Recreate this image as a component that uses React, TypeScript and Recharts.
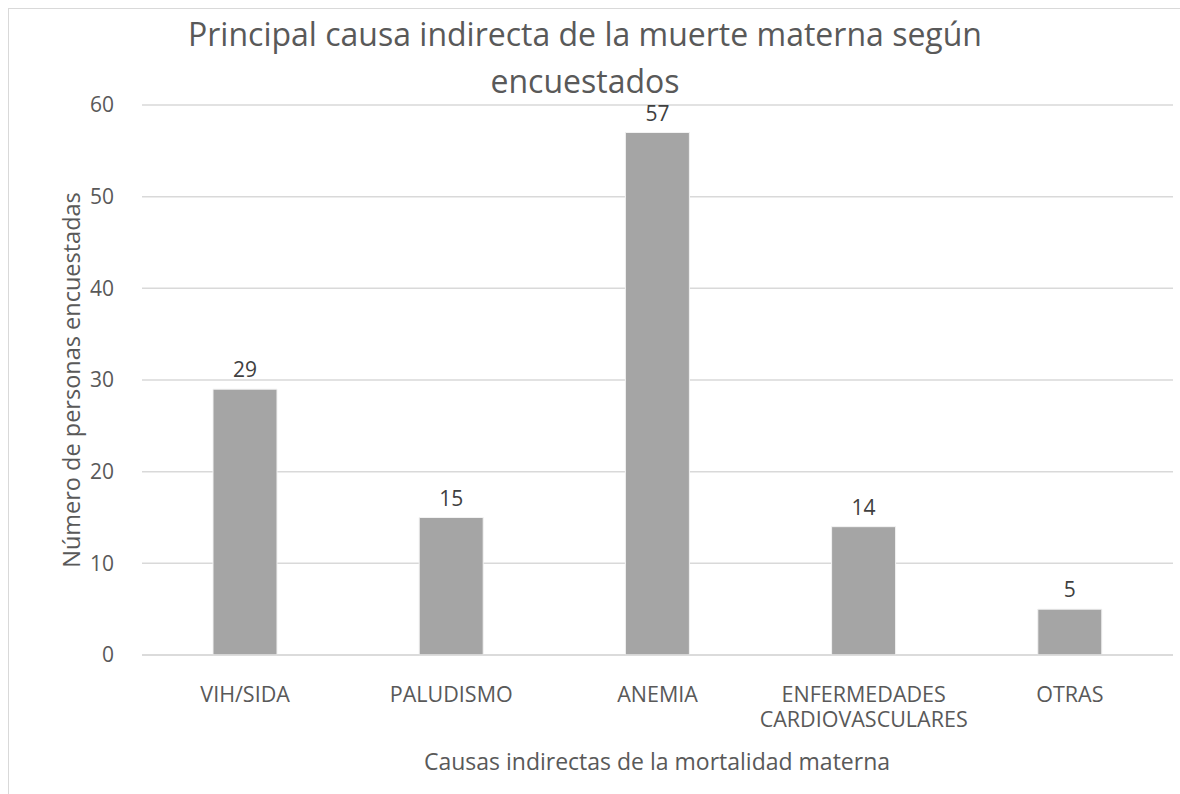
import { BarChart, Bar, XAxis, YAxis, CartesianGrid, LabelList } from 'recharts';

const categories = ['VIH/SIDA', 'PALUDISMO', 'ANEMIA', 'ENFERMEDADES CARDIOVASCULARES', 'OTRAS'];
const counts = [29, 15, 57, 14, 5];
const yTicks = [0, 10, 20, 30, 40, 50, 60];

const titleLines = ['Principal causa indirecta de la muerte materna según', 'encuestados'];
const xTitle = 'Causas indirectas de la mortalidad materna';
const yTitle = 'Número de personas encuestadas';

const data = categories.map((name, i) => ({ name, value: counts[i] }));

const FONT = '"Open Sans", sans-serif';
const TEXT = '#595959';

// splits long labels into two lines like Excel does
function CategoryTick(props: any) {
  const { x, y, payload } = props;
  const words = String(payload.value).split(' ');
  return (
    <text x={x} y={y} textAnchor="middle" fill={TEXT} fontSize={21.5} fontFamily={FONT}>
      {words.map((w: string, i: number) => (
        <tspan key={i} x={x} dy={i === 0 ? 39 : 25}>
          {w}
        </tspan>
      ))}
    </text>
  );
}

export default function App() {
  return (
    <div style={{ position: 'absolute', left: 0, top: 0, width: 1180, height: 794, overflow: 'hidden', background: '#fff' }}>
      <div
        style={{
          position: 'absolute',
          left: 8,
          top: 8,
          width: 1172,
          height: 786,
          boxSizing: 'border-box',
          borderLeft: '1.5px solid #D9D9D9',
          borderTop: '1.5px solid #D9D9D9',
        }}
      />
      <BarChart
        width={1180}
        height={794}
        data={data}
        margin={{ top: 105, right: 7, left: 0, bottom: 109 }}
        style={{ position: 'absolute', left: 0, top: 0 }}
      >
        <text x={585} y={46} textAnchor="middle" fill={TEXT} fontSize={32} fontFamily={FONT}>
          {titleLines[0]}
        </text>
        <text x={585} y={93} textAnchor="middle" fill={TEXT} fontSize={32} fontFamily={FONT}>
          {titleLines[1]}
        </text>
        <text x={657} y={770} textAnchor="middle" fill={TEXT} fontSize={23} fontFamily={FONT}>
          {xTitle}
        </text>
        <text
          x={80}
          y={380}
          textAnchor="middle"
          fill={TEXT}
          fontSize={23.5}
          fontFamily={FONT}
          transform="rotate(-90 80 380)"
        >
          {yTitle}
        </text>
        <CartesianGrid vertical={false} stroke="#D9D9D9" strokeWidth={1.5} />
        <XAxis
          dataKey="name"
          tickLine={false}
          axisLine={{ stroke: '#D9D9D9', strokeWidth: 1.5 }}
          interval={0}
          tick={<CategoryTick />}
        />
        <YAxis
          width={142}
          domain={[0, 60]}
          ticks={yTicks}
          axisLine={false}
          tickLine={false}
          tickMargin={22}
          tick={{ fill: TEXT, fontSize: 21, fontFamily: FONT }}
        />
        <Bar dataKey="value" fill="#A5A5A5" stroke="#F2F2F2" strokeWidth={1} barSize={64} isAnimationActive={false}>
          <LabelList dataKey="value" position="top" offset={12} fill="#404040" fontSize={21} fontFamily={FONT} />
        </Bar>
      </BarChart>
    </div>
  );
}
